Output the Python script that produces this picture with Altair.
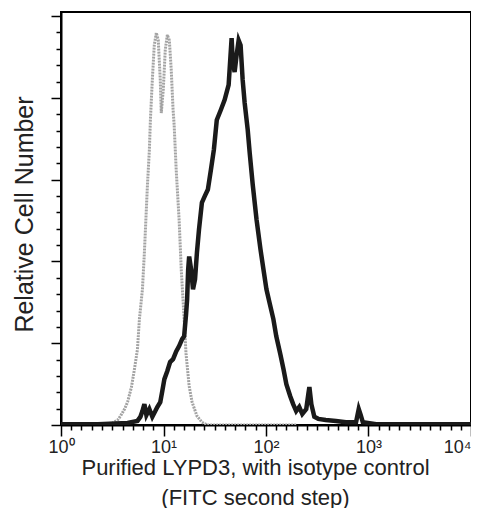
import altair as alt
import pandas as pd

# Isotype control (gray) histogram: fluorescence intensity and relative count
iso_x = [1.0, 2.28, 3.19, 3.56, 3.81, 4.17, 4.46, 4.87, 5.21, 5.57, 5.82, 6.23, 6.51,
         6.96, 7.28, 7.45, 7.78, 8.13, 8.51, 8.89, 9.30, 9.51, 9.95, 10.4, 10.9, 11.4,
         11.9, 12.4, 12.7, 13.3, 14.2, 14.9, 15.9, 16.6, 17.8, 19.0, 21.2, 23.7, 26.5, 197]
iso_y = [0, 0, 0.5, 1.2, 2.2, 3.9, 5.6, 9.3, 13.7, 18.5, 25.9, 33.2, 42.2,
         58.3, 67.3, 74.6, 84.4, 92.9, 95.9, 94.1, 84.4, 76.3, 82.0, 91.7, 95.4, 94.1,
         86.8, 77.1, 73.4, 62.4, 50.2, 38.0, 25.9, 17.3, 9.5, 5.6, 2.2, 0.7, 0, 0]

# Purified LYPD3 (black) histogram
lypd3_x = [1.0, 2.28, 4.46, 5.57, 5.95, 6.23, 6.51, 6.81, 7.28, 7.78, 8.32, 8.70, 9.30,
           9.73, 10.2, 10.9, 11.6, 12.4, 13.3, 14.2, 15.2, 15.9, 16.6, 17.0, 17.4, 17.8,
           18.6, 19.4, 20.3, 21.2, 22.2, 23.7, 25.4, 27.1, 29.0, 31.0, 33.1, 36.3, 39.5,
           43.2, 45.1, 46.2, 47.3, 49.4, 51.7, 54.1, 56.5, 59.2, 61.9, 66.3, 69.3, 74.2,
           80.9, 88.4, 94.5, 101, 108, 118, 126, 138, 148, 158, 172, 184, 197, 211, 226,
           247, 259, 265, 277, 296, 324, 383, 481, 603, 756, 803, 840, 880, 1190, 10000]
lypd3_y = [0.2, 0.2, 0.5, 1.0, 2.0, 3.4, 5.1, 2.4, 3.9, 2.0, 3.4, 4.4, 5.6,
           8.3, 11.2, 13.2, 15.4, 16.1, 18.0, 19.3, 21.0, 21.7, 27.1, 30.7, 38.0, 41.2,
           38.0, 33.2, 35.6, 42.2, 47.8, 54.4, 56.1, 57.6, 62.4, 67.3, 74.6, 77.1, 79.5,
           83.2, 90.5, 94.6, 89.3, 86.3, 90.5, 94.1, 92.9, 84.4, 78.8, 72.2, 66.6, 58.8,
           50.2, 42.9, 38.0, 33.2, 30.0, 25.9, 21.7, 17.3, 13.7, 10.0, 7.1, 5.1, 3.4, 4.4,
           2.7, 3.9, 7.6, 9.3, 5.1, 2.0, 1.5, 1.2, 1.0, 0.7, 0.7, 3.9, 2.4, 0.7, 0.2, 0.2]

series_names = ["Isotype control", "Purified LYPD3"]
series_colors = ["#a3a3a3", "#1a1a1a"]

rows = []
for name, xs, ys in [(series_names[0], iso_x, iso_y), (series_names[1], lypd3_x, lypd3_y)]:
    for i, (a, b) in enumerate(zip(xs, ys)):
        rows.append({"series": name, "intensity": a, "count": b, "idx": i})
df = pd.DataFrame(rows)

decades = [1, 10, 100, 1000, 10000]
x_ticks = sorted(set(decades + [round(10 ** (k / 10), 6) for k in range(41)]))
y_ticks = list(range(0, 101, 4))

x_axis = alt.Axis(
    values=x_ticks,
    labelExpr="{'1':'10\u2070','10':'10\u00b9','100':'10\u00b2','1000':'10\u00b3','10000':'10\u2074'}[datum.value] || ''",
    labelFlush=False,
    labelOverlap=False,
    labelFont="Liberation Sans",
    labelFontSize=18,
    labelColor="#222222",
    labelPadding=2,
    labelAlign={"condition": {"test": "datum.value >= 10000", "value": "right"}, "value": "center"},
    tickSize={"condition": {"test": "indexof([1,10,100,1000,10000], datum.value) >= 0", "value": 11}, "value": 5},
    tickColor="black",
    tickWidth=1.5,
    domainColor="black",
    domainWidth=2,
    grid=False,
    title=["Purified LYPD3, with isotype control", "(FITC second step)"],
    titleFont="Liberation Sans",
    titleFontSize=22,
    titleFontWeight="normal",
    titleColor="#222222",
    titleLineHeight=30,
    titleX=194,
    titleY=49,
    titleAlign="center",
    titleBaseline="alphabetic",
)

y_axis = alt.Axis(
    values=y_ticks,
    labels=False,
    tickSize={"condition": {"test": "datum.value % 20 === 0", "value": 10}, "value": 5},
    tickColor="black",
    tickWidth=1.5,
    domainColor="black",
    domainWidth=2,
    grid=False,
    title="Relative Cell Number",
    titleFont="Liberation Sans",
    titleFontSize=25,
    titleFontWeight="normal",
    titleColor="#222222",
    titleAngle=270,
    titleX=-37,
    titleY=202,
    titleAlign="center",
    titleBaseline="middle",
)

base = alt.Chart(df).encode(
    x=alt.X("intensity:Q", scale=alt.Scale(type="log", domain=[1, 10000], nice=False), axis=x_axis),
    y=alt.Y("count:Q", scale=alt.Scale(domain=[0, 101], nice=False, zero=True), axis=y_axis),
    order="idx:Q",
)

iso = base.transform_filter(alt.datum.series == series_names[0]).mark_line(
    color=series_colors[0], strokeWidth=3, strokeDash=[2, 1], clip=True
)
lyp = base.transform_filter(alt.datum.series == series_names[1]).mark_line(
    color=series_colors[1], strokeWidth=4.5, clip=True
)

chart = alt.layer(iso, lyp).properties(
    width=410,
    height=413,
    autosize=alt.AutoSizeParams(type="none"),
    padding={"left": 53, "top": 4, "right": 0, "bottom": 83},
    background="white",
).configure_view(stroke="black", strokeWidth=2)

chart.save("out.html", embed_options={"renderer": "svg", "actions": False})
